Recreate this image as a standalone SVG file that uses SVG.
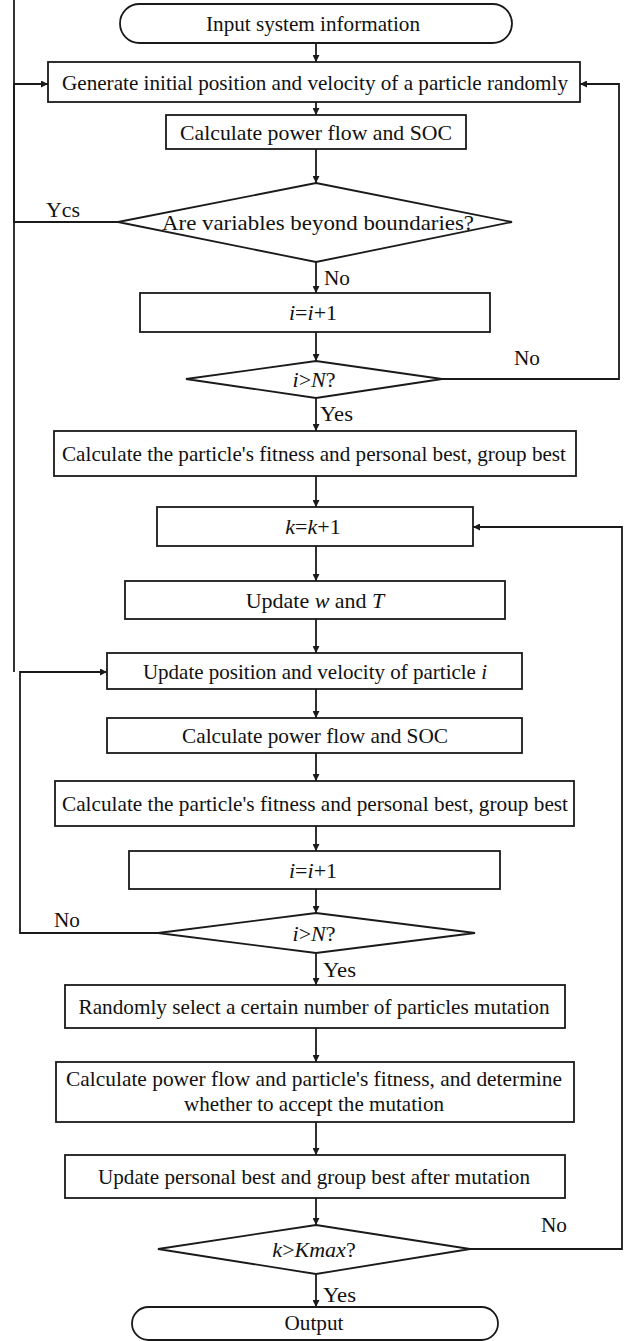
<svg xmlns="http://www.w3.org/2000/svg" width="625" height="1341" viewBox="0 0 625 1341">
<style>
.n{fill:#fff;stroke:#1a1a1a;stroke-width:1.8}
.t{font-family:"Liberation Serif","Times New Roman",serif;font-size:22px;fill:#111;text-anchor:middle}
.l{font-family:"Liberation Serif","Times New Roman",serif;font-size:22px;fill:#111}
.i{font-style:italic}
.c{fill:none;stroke:#1a1a1a;stroke-width:1.8}
</style>
<defs>
<marker id="a" viewBox="0 0 10 10" refX="10" refY="5" markerWidth="8" markerHeight="7" markerUnits="userSpaceOnUse" orient="auto">
<path d="M0,0 L10,5 L0,10 z" fill="#1a1a1a"/>
</marker>
</defs>
<rect width="625" height="1341" fill="#fff"/>
<g id="connectors">
<line class="c" x1="14" y1="0" x2="14" y2="672"/>
<line class="c" x1="316" y1="43" x2="316" y2="62" marker-end="url(#a)"/>
<line class="c" x1="316" y1="102" x2="316" y2="115" marker-end="url(#a)"/>
<line class="c" x1="316" y1="149" x2="316" y2="183" marker-end="url(#a)"/>
<line class="c" x1="316" y1="262" x2="316" y2="293" marker-end="url(#a)"/>
<line class="c" x1="316" y1="332" x2="316" y2="361" marker-end="url(#a)"/>
<line class="c" x1="316" y1="398" x2="316" y2="431" marker-end="url(#a)"/>
<line class="c" x1="316" y1="476" x2="316" y2="507" marker-end="url(#a)"/>
<line class="c" x1="316" y1="546" x2="316" y2="581" marker-end="url(#a)"/>
<line class="c" x1="316" y1="619" x2="316" y2="653" marker-end="url(#a)"/>
<line class="c" x1="316" y1="689" x2="316" y2="718" marker-end="url(#a)"/>
<line class="c" x1="316" y1="753" x2="316" y2="781" marker-end="url(#a)"/>
<line class="c" x1="316" y1="826" x2="316" y2="851" marker-end="url(#a)"/>
<line class="c" x1="316" y1="889" x2="316" y2="913" marker-end="url(#a)"/>
<line class="c" x1="316" y1="953" x2="316" y2="985" marker-end="url(#a)"/>
<line class="c" x1="316" y1="1028" x2="316" y2="1062" marker-end="url(#a)"/>
<line class="c" x1="316" y1="1122" x2="316" y2="1155" marker-end="url(#a)"/>
<line class="c" x1="316" y1="1198" x2="316" y2="1225" marker-end="url(#a)"/>
<line class="c" x1="316" y1="1274" x2="316" y2="1307" marker-end="url(#a)"/>
<path class="c" d="M118,222 H14 V84 H48" marker-end="url(#a)"/>
<path class="c" d="M442,379 H619 V84 H580" marker-end="url(#a)"/>
<path class="c" d="M158,933 H20 V672 H107" marker-end="url(#a)"/>
<path class="c" d="M470,1249 H622 V527 H473" marker-end="url(#a)"/>
<text class="l" x="46" y="217" textLength="34" lengthAdjust="spacingAndGlyphs">Ycs</text>
<text class="l" x="324" y="285" textLength="26" lengthAdjust="spacingAndGlyphs">No</text>
<text class="l" x="514" y="365" textLength="26" lengthAdjust="spacingAndGlyphs">No</text>
<text class="l" x="320" y="421" textLength="33" lengthAdjust="spacingAndGlyphs">Yes</text>
<text class="l" x="54" y="927" textLength="26" lengthAdjust="spacingAndGlyphs">No</text>
<text class="l" x="323" y="977" textLength="33" lengthAdjust="spacingAndGlyphs">Yes</text>
<text class="l" x="541" y="1232" textLength="26" lengthAdjust="spacingAndGlyphs">No</text>
<text class="l" x="323" y="1302" textLength="33" lengthAdjust="spacingAndGlyphs">Yes</text>
</g>
<g id="start"><rect class="n" x="120" y="4" width="392" height="39" rx="19.5"/><text class="t" x="313" y="31" textLength="214" lengthAdjust="spacingAndGlyphs">Input system information</text></g>
<g id="gen"><rect class="n" x="48" y="62" width="532" height="40"/><text class="t" x="315" y="90" textLength="506" lengthAdjust="spacingAndGlyphs">Generate initial position and velocity of a particle randomly</text></g>
<g id="pf1"><rect class="n" x="166" y="115" width="300" height="34"/><text class="t" x="316" y="140" textLength="272" lengthAdjust="spacingAndGlyphs">Calculate power flow and SOC</text></g>
<g id="d1"><polygon class="n" points="316,183 512,222 316,262 118,222"/><text class="t" x="318" y="230" textLength="312" lengthAdjust="spacingAndGlyphs">Are  variables beyond boundaries?</text></g>
<g id="inc1"><rect class="n" x="140" y="293" width="350" height="39"/><text class="t" x="313" y="320"><tspan class="i">i</tspan>=<tspan class="i">i</tspan>+1</text></g>
<g id="d2"><polygon class="n" points="316,361 442,379 316,398 186,379"/><text class="t" x="314" y="387"><tspan class="i">i</tspan>&gt;<tspan class="i">N</tspan>?</text></g>
<g id="fit1"><rect class="n" x="54" y="431" width="522" height="45"/><text class="t" x="314" y="461" textLength="504" lengthAdjust="spacingAndGlyphs">Calculate the particle's fitness and personal best, group best</text></g>
<g id="kinc"><rect class="n" x="157" y="507" width="316" height="39"/><text class="t" x="313" y="534"><tspan class="i">k</tspan>=<tspan class="i">k</tspan>+1</text></g>
<g id="updw"><rect class="n" x="125" y="581" width="380" height="38"/><text class="t" x="315" y="608">Update <tspan class="i">w</tspan> and <tspan class="i">T</tspan></text></g>
<g id="updp"><rect class="n" x="107" y="653" width="415" height="36"/><text class="t" x="315" y="679" style="font-size:21px">Update position and velocity of  particle <tspan class="i">i</tspan></text></g>
<g id="pf2"><rect class="n" x="107" y="718" width="415" height="35"/><text class="t" x="315" y="743" textLength="266" lengthAdjust="spacingAndGlyphs">Calculate power flow and SOC</text></g>
<g id="fit2"><rect class="n" x="55" y="781" width="519" height="45"/><text class="t" x="315" y="811" textLength="506" lengthAdjust="spacingAndGlyphs">Calculate the particle's fitness and personal best, group best</text></g>
<g id="inc2"><rect class="n" x="129" y="851" width="371" height="38"/><text class="t" x="313" y="878"><tspan class="i">i</tspan>=<tspan class="i">i</tspan>+1</text></g>
<g id="d3"><polygon class="n" points="316,913 475,933 316,953 158,933"/><text class="t" x="314" y="941"><tspan class="i">i</tspan>&gt;<tspan class="i">N</tspan>?</text></g>
<g id="rand"><rect class="n" x="65" y="985" width="500" height="43"/><text class="t" x="314" y="1014" textLength="471" lengthAdjust="spacingAndGlyphs">Randomly select a certain number of particles mutation</text></g>
<g id="mut"><rect class="n" x="56" y="1062" width="518" height="60"/><text class="t" x="314" y="1086" textLength="496" lengthAdjust="spacingAndGlyphs">Calculate power flow and  particle's fitness, and determine</text><text class="t" x="314" y="1111" textLength="260" lengthAdjust="spacingAndGlyphs">whether to accept the mutation</text></g>
<g id="upbest"><rect class="n" x="65" y="1155" width="500" height="43"/><text class="t" x="314" y="1184" textLength="432" lengthAdjust="spacingAndGlyphs">Update personal best and group best after mutation</text></g>
<g id="d4"><polygon class="n" points="316,1225 470,1249 316,1274 158,1249"/><text class="t" x="314" y="1257"><tspan class="i">k</tspan>&gt;<tspan class="i">Kmax</tspan>?</text></g>
<g id="end"><rect class="n" x="132" y="1307" width="366" height="33" rx="16.5"/><text class="t" x="314" y="1330" textLength="59" lengthAdjust="spacingAndGlyphs">Output</text></g>
</svg>
